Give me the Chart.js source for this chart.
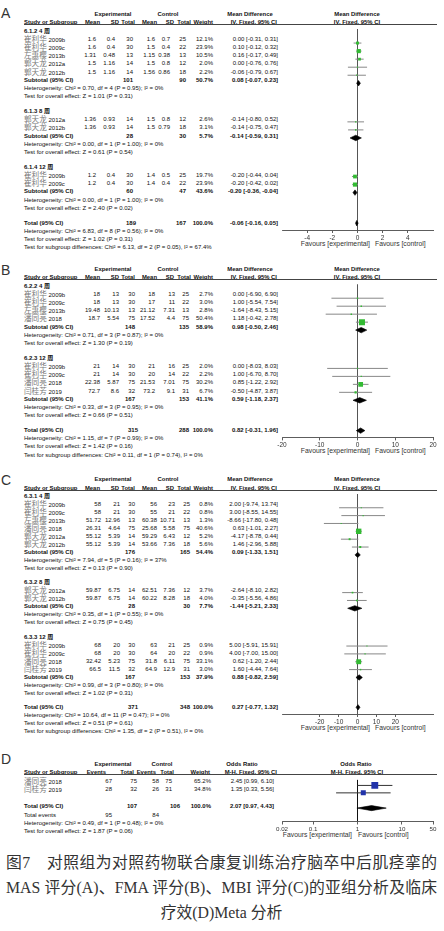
<!DOCTYPE html>
<html>
<head>
<meta charset="utf-8">
<title>Forest plots</title>
<script src="https://cdn.jsdelivr.net/npm/chart.js@4.4.1/dist/chart.umd.min.js"></script>
<style>
  html, body { margin: 0; padding: 0; background: #fff; }
  body { position: relative; width: 444px; height: 931px; overflow: hidden;
         font-family: "Liberation Sans", Arial, "Noto Sans CJK SC", sans-serif; color: #111; }
  .t { position: absolute; white-space: nowrap; font-size: 6px; line-height: 8px; }
  .b { font-weight: bold; }
  .h { font-weight: bold; font-size: 5.9px; }
  .cjk { font-family: "Noto Sans CJK SC", sans-serif; font-size: 7.6px; line-height: 8px; color: #777; }
  .letter { font-size: 14px; line-height: 16px; color: #333; }
  .fav { font-size: 6.8px; color: #333; }
  .rule { position: absolute; height: 1px; background: #444; }
  .plot { position: absolute; }
  .cap { position: absolute; left: 6px; width: 431px; height: 25px; line-height: 25px; font-size: 15.8px;
         white-space: nowrap; font-family: "Liberation Serif", "Noto Sans CJK SC", serif; color: #333; }
  .just { text-align: justify; text-align-last: justify; }
  .mid { text-align: center; }
</style>
</head>
<body>
<div class="cap just" style="top:849.5px">图7　对照组为对照药物联合康复训练治疗脑卒中后肌痉挛的</div>
<div class="cap just" style="top:874.5px">MAS 评分(A)、FMA 评分(B)、MBI 评分(C)的亚组分析及临床</div>
<div class="cap mid" style="top:899.5px">疗效(D)Meta 分析</div>
<script>
// ---------- A: MAS score ----------
var aGroups = ['6.1.2 4 周', '6.1.3 8 周', '6.1.4 12 周'];
var aGroupOf = [0, 0, 0, 0, 0, 1, 1, 2, 2];
var aStudy = ['崔利华 2009b', '崔利华 2009c', '左惠樱 2013b', '郭天龙 2012a', '郭天龙 2012b',
              '郭天龙 2012a', '郭天龙 2012b', '崔利华 2009b', '崔利华 2009c'];
var aExpMean = [1.6, 1.6, 1.31, 1.5, 1.5, 1.36, 1.36, 1.2, 1.2];
var aExpSD = [0.4, 0.4, 0.48, 1.16, 1.16, 0.93, 0.93, 0.4, 0.4];
var aExpN = [30, 30, 13, 14, 14, 14, 14, 30, 30];
var aCtlMean = [1.6, 1.5, 1.15, 1.5, 1.56, 1.5, 1.5, 1.4, 1.4];
var aCtlSD = [0.7, 0.4, 0.38, 0.8, 0.86, 0.8, 0.79, 0.5, 0.4];
var aCtlN = [25, 22, 13, 12, 18, 12, 18, 25, 22];
var aWeight = [12.1, 23.9, 10.5, 2.0, 2.2, 2.6, 3.1, 19.7, 23.9];
var aMD = [0.00, 0.10, 0.16, 0.00, -0.06, -0.14, -0.14, -0.20, -0.20];
var aLo = [-0.31, -0.12, -0.17, -0.76, -0.79, -0.80, -0.75, -0.44, -0.42];
var aHi = [0.31, 0.32, 0.49, 0.76, 0.67, 0.52, 0.47, 0.04, 0.02];
// subtotals, last entry = overall total
var aSubExpN = [101, 28, 60, 189];
var aSubCtlN = [90, 30, 47, 167];
var aSubWeight = [50.7, 5.7, 43.6, 100.0];
var aSubMD = [0.08, -0.14, -0.20, -0.06];
var aSubLo = [-0.07, -0.59, -0.36, -0.16];
var aSubHi = [0.23, 0.31, -0.04, 0.05];
var aHet = ['Chi² = 0.70, df = 4 (P = 0.95); I² = 0%', 'Chi² = 0.00, df = 1 (P = 1.00); I² = 0%',
            'Chi² = 0.00, df = 1 (P = 1.00); I² = 0%', 'Chi² = 6.83, df = 8 (P = 0.56); I² = 0%'];
var aZ = ['Z = 1.01 (P = 0.31)', 'Z = 0.61 (P = 0.54)', 'Z = 2.40 (P = 0.02)', 'Z = 1.02 (P = 0.31)'];
var aDiff = 'Chi² = 6.13, df = 2 (P = 0.05), I² = 67.4%';
var aTicks = [-4, -2, 0, 2, 4];

// ---------- B: FMA score ----------
var bGroups = ['6.2.2 4 周', '6.2.3 12 周'];
var bGroupOf = [0, 0, 0, 0, 1, 1, 1, 1];
var bStudy = ['崔利华 2009b', '崔利华 2009c', '左惠樱 2013b', '潘同亮 2018',
              '崔利华 2009b', '崔利华 2009c', '潘同亮 2018', '闫桂芳 2019'];
var bExpMean = [18, 18, 19.48, 18.7, 21, 21, 22.38, 72.7];
var bExpSD = [13, 13, 10.13, 5.54, 14, 14, 5.87, 8.6];
var bExpN = [30, 30, 13, 75, 30, 30, 75, 32];
var bCtlMean = [18, 17, 21.12, 17.52, 21, 20, 21.53, 73.2];
var bCtlSD = [13, 11, 7.31, 4.4, 16, 14, 7.01, 9.1];
var bCtlN = [25, 22, 13, 75, 25, 22, 75, 31];
var bWeight = [2.7, 3.0, 2.8, 50.4, 2.0, 2.2, 30.2, 6.7];
var bMD = [0.00, 1.00, -1.64, 1.18, 0.00, 1.00, 0.85, -0.50];
var bLo = [-6.90, -5.54, -8.43, -0.42, -8.03, -6.70, -1.22, -4.87];
var bHi = [6.90, 7.54, 5.15, 2.78, 8.03, 8.70, 2.92, 3.87];
var bSubExpN = [148, 167, 315];
var bSubCtlN = [135, 153, 288];
var bSubWeight = [58.9, 41.1, 100.0];
var bSubMD = [0.98, 0.59, 0.82];
var bSubLo = [-0.50, -1.18, -0.31];
var bSubHi = [2.46, 2.37, 1.96];
var bHet = ['Chi² = 0.71, df = 3 (P = 0.87); I² = 0%', 'Chi² = 0.33, df = 3 (P = 0.95); I² = 0%',
            'Chi² = 1.15, df = 7 (P = 0.99); I² = 0%'];
var bZ = ['Z = 1.30 (P = 0.19)', 'Z = 0.66 (P = 0.51)', 'Z = 1.42 (P = 0.16)'];
var bDiff = 'Chi² = 0.11, df = 1 (P = 0.74), I² = 0%';
var bTicks = [-20, -10, 0, 10, 20];

// ---------- C: MBI score ----------
var cGroups = ['6.3.1 4 周', '6.3.2 8 周', '6.3.3 12 周'];
var cGroupOf = [0, 0, 0, 0, 0, 0, 1, 1, 2, 2, 2, 2];
var cStudy = ['崔利华 2009b', '崔利华 2009c', '左惠樱 2013b', '潘同亮 2018', '郭天龙 2012a', '郭天龙 2012b',
              '郭天龙 2012a', '郭天龙 2012b', '崔利华 2009b', '崔利华 2009c', '潘同亮 2018', '闫桂芳 2019'];
var cExpMean = [58, 58, 51.72, 26.31, 55.12, 55.12, 59.87, 59.87, 68, 68, 32.42, 66.5];
var cExpSD = [21, 21, 12.96, 4.64, 5.39, 5.39, 6.75, 6.75, 20, 20, 5.23, 11.5];
var cExpN = [30, 30, 13, 75, 14, 14, 14, 14, 30, 30, 75, 32];
var cCtlMean = [56, 55, 60.38, 25.68, 59.29, 53.66, 62.51, 60.22, 63, 64, 31.8, 64.9];
var cCtlSD = [23, 21, 10.71, 5.58, 6.43, 7.36, 7.36, 8.28, 21, 20, 6.11, 12.9];
var cCtlN = [25, 22, 13, 75, 12, 18, 12, 18, 25, 22, 75, 31];
var cWeight = [0.8, 0.8, 1.3, 40.6, 5.2, 5.6, 3.7, 4.0, 0.9, 0.9, 33.1, 3.0];
var cMD = [2.00, 3.00, -8.66, 0.63, -4.17, 1.46, -2.64, -0.35, 5.00, 4.00, 0.62, 1.60];
var cLo = [-9.74, -8.55, -17.80, -1.01, -8.78, -2.96, -8.10, -5.56, -5.91, -7.00, -1.20, -4.44];
var cHi = [13.74, 14.55, 0.48, 2.27, 0.44, 5.88, 2.82, 4.86, 15.91, 15.00, 2.44, 7.64];
var cSubExpN = [176, 28, 167, 371];
var cSubCtlN = [165, 30, 153, 348];
var cSubWeight = [54.4, 7.7, 37.9, 100.0];
var cSubMD = [0.09, -1.44, 0.88, 0.27];
var cSubLo = [-1.33, -5.21, -0.82, -0.77];
var cSubHi = [1.51, 2.33, 2.59, 1.32];
var cHet = ['Chi² = 7.94, df = 5 (P = 0.16); I² = 37%', 'Chi² = 0.35, df = 1 (P = 0.55); I² = 0%',
            'Chi² = 0.99, df = 3 (P = 0.80); I² = 0%', 'Chi² = 10.64, df = 11 (P = 0.47); I² = 0%'];
var cZ = ['Z = 0.13 (P = 0.90)', 'Z = 0.75 (P = 0.45)', 'Z = 1.02 (P = 0.31)', 'Z = 0.51 (P = 0.61)'];
var cDiff = 'Chi² = 1.35, df = 2 (P = 0.51), I² = 0%';
var cTicks = [-20, -10, 0, 10, 20];

// ---------- D: clinical efficacy ----------
var dStudy = ['潘同亮 2018', '闫桂芳 2019'];
var dExpEvents = [67, 28];
var dExpN = [75, 32];
var dCtlEvents = [58, 26];
var dCtlN = [75, 31];
var dWeight = [65.2, 34.8];
var dOR = [2.45, 1.35];
var dLo = [0.99, 0.33];
var dHi = [6.10, 5.56];
var dTotal = [107, 106, 100.0, 2.07, 0.97, 4.43];   // expN, ctlN, weight, OR, lo, hi
var dEvents = [95, 84];
var dHet = 'Chi² = 0.49, df = 1 (P = 0.48); I² = 0%';
var dZ = 'Z = 1.87 (P = 0.06)';
var dTicks = [0.02, 0.1, 1, 10, 50];

var GAP = 0.8;      // extra space between subgroups, in lines

function put(s, x, y, align, cls) {
  var d = document.createElement('div');
  d.className = 't' + (cls ? ' ' + cls : '');
  d.textContent = s;
  d.style.left = x + 'px';
  d.style.top = y + 'px';
  d.style.transform = align === 'r' ? 'translate(-100%,-50%)' : align === 'c' ? 'translate(-50%,-50%)' : 'translateY(-50%)';
  document.body.appendChild(d);
  return d;
}

function studyName(s, y) {
  var d = put('', 24, y, 'l');
  var parts = s.split(' ');
  var c = document.createElement('span');
  c.className = 'cjk';
  c.textContent = parts[0] + ' ';
  d.appendChild(c);
  d.appendChild(document.createTextNode(parts[1]));
}

function rule(y) {
  var r = document.createElement('div');
  r.className = 'rule';
  r.style.left = '24px'; r.style.width = '413px'; r.style.top = (y - 0.5) + 'px';
  document.body.appendChild(r);
}

function ciText(m, lo, hi) {
  return m.toFixed(2) + ' [' + lo.toFixed(2) + ', ' + hi.toFixed(2) + ']';
}

function forest(o) {
  var box = document.createElement('div');
  box.className = 'plot';
  box.style.left = '272px';
  box.style.top = o.top + 'px';
  box.style.width = '171px';
  box.style.height = (o.yMax * o.lh + 18) + 'px';
  var cv = document.createElement('canvas');
  box.appendChild(cv);
  document.body.appendChild(box);

  var ci = [];
  o.lo.forEach(function (lo, i) {
    ci.push({x: lo, y: o.y[i]}, {x: o.hi[i], y: o.y[i]}, {x: lo, y: null});
  });
  var ds = [{
    type: 'scatter', order: 0,
    data: o.est.map(function (m, i) { return {x: m, y: o.y[i]}; }),
    pointStyle: 'rect',
    pointRadius: o.weight.map(function (w) { return Math.max(0.8, 0.6 * Math.sqrt(w)); }),
    backgroundColor: o.box, borderWidth: 0
  }, {
    type: 'line', order: 2, data: ci,
    borderColor: o.line, borderWidth: 1, pointRadius: 0, fill: false, spanGaps: false
  }];
  o.dEst.forEach(function (m, j) {
    var y = o.dY[j], h = 0.34;
    ds.push({
      type: 'line', order: 1,
      data: [{x: o.dLo[j], y: y}, {x: m, y: y - h}, {x: o.dHi[j], y: y}, {x: m, y: y + h}, {x: o.dLo[j], y: y}],
      borderColor: '#000', borderWidth: 0.6, backgroundColor: '#000', pointRadius: 0, fill: 'shape'
    });
  });

  new Chart(cv, {
    type: 'scatter',
    data: {datasets: ds},
    options: {
      responsive: true, maintainAspectRatio: false, animation: false, events: [],
      layout: {padding: {left: 10, right: 10, top: 0, bottom: 0}},
      plugins: {legend: {display: false}, tooltip: {enabled: false}},
      scales: {
        x: {
          type: o.log ? 'logarithmic' : 'linear', min: o.min, max: o.max,
          afterBuildTicks: function (s) { s.ticks = o.ticks.map(function (v) { return {value: v}; }); },
          afterFit: function (s) { s.height = 18; },
          ticks: {autoSkip: false, maxRotation: 0, padding: 1, color: '#333',
                  font: {family: 'Liberation Sans', size: o.tickSize},
                  callback: function (v) { return String(v); }},
          grid: {color: function (c) { return c.tick && c.tick.value === o.ref ? o.refColor : 'rgba(0,0,0,0)'; },
                 lineWidth: 1, tickLength: 3, tickColor: '#333', tickWidth: 0.8},
          border: {display: true, color: '#333', width: 0.8}
        },
        y: {type: 'linear', display: false, reverse: true, min: 0, max: o.yMax}
      }
    }
  });
}

function meanDiffPanel(p) {
  var top = p.lineTop, lh = p.lineH, cols = p.cols;
  function yOf(k) { return top + (k + 0.75) * lh; }

  put(p.letter, 1, p.letterY, 'l', 'letter');
  put('Experimental', 113, top - 11, 'c', 'h');
  put('Control', 168, top - 11, 'c', 'h');
  put('Mean Difference', 250, top - 11, 'c', 'h');
  put('Mean Difference', 357, top - 11, 'c', 'h');
  put('Study or Subgroup', 24, top - 2.5, 'l', 'h');
  ['Mean', 'SD', 'Total', 'Mean', 'SD', 'Total', 'Weight', 'IV, Fixed, 95% CI'].forEach(function (h, c) {
    put(h, [100, 119, 135, 157, 174, 191, 213, 277][c], top - 2.5, 'r', 'h');
  });
  put('IV, Fixed, 95% CI', 357, top - 2.5, 'c', 'h');
  rule(top);

  var k = 0, rowY = [], subY = [];
  p.groups.forEach(function (g, gi) {
    put(g, 24, yOf(k), 'l', 'b');
    k++;
    p.groupOf.forEach(function (gg, i) {
      if (gg !== gi) return;
      var y = yOf(k);
      studyName(p.study[i], y);
      [p.expMean[i], p.expSD[i], p.expN[i], p.ctlMean[i], p.ctlSD[i], p.ctlN[i],
       p.weight[i].toFixed(1) + '%', ciText(p.md[i], p.lo[i], p.hi[i])].forEach(function (v, c) {
        put(String(v), cols[c], y, 'r');
      });
      rowY[i] = k + 0.75;
      k++;
    });
    subY.push(k);
    k += 3 + GAP;
  });
  subY.push(k);

  subY.forEach(function (sk, j) {
    var isTotal = j === subY.length - 1;
    var y = yOf(sk);
    put(isTotal ? 'Total (95% CI)' : 'Subtotal (95% CI)', 24, y, 'l', 'b');
    put(String(p.subExpN[j]), cols[2] + (isTotal ? 3 : 0), y, 'r', 'b');
    put(String(p.subCtlN[j]), cols[5], y, 'r', 'b');
    put(p.subWeight[j].toFixed(1) + '%', cols[6], y, 'r', 'b');
    put(ciText(p.subMD[j], p.subLo[j], p.subHi[j]), cols[7], y, 'r', 'b');
    put('Heterogeneity: ' + p.het[j], 24, yOf(sk + 1), 'l');
    put('Test for overall effect: ' + p.z[j], 24, yOf(sk + 2), 'l');
  });
  var tk = subY[subY.length - 1];
  put('Test for subgroup differences: ' + p.diff, 24, yOf(tk + 3), 'l');

  var yMax = tk + 0.75 + 0.85;
  var axisY = top + yMax * lh;
  put('Favours [experimental]', 370, axisY + 14, 'r', 'fav');
  put('Favours [control]', 375, axisY + 14, 'l', 'fav');

  forest({
    top: top, lh: lh, yMax: yMax, y: rowY,
    est: p.md, lo: p.lo, hi: p.hi, weight: p.weight,
    dEst: p.subMD, dLo: p.subLo, dHi: p.subHi, dY: subY.map(function (v) { return v + 0.75; }),
    min: p.min, max: p.max, ticks: p.ticks, log: false, tickSize: 6.5,
    ref: 0, refColor: '#555', box: '#33bb33', line: '#888'
  });
}

meanDiffPanel({
  letter: 'A', letterY: 13, lineTop: 24.5, lineH: 8.2, cols: [96, 115, 133, 155, 170, 186, 213, 278],
  groups: aGroups, groupOf: aGroupOf, study: aStudy,
  expMean: aExpMean, expSD: aExpSD, expN: aExpN, ctlMean: aCtlMean, ctlSD: aCtlSD, ctlN: aCtlN,
  weight: aWeight, md: aMD, lo: aLo, hi: aHi,
  subExpN: aSubExpN, subCtlN: aSubCtlN, subWeight: aSubWeight, subMD: aSubMD, subLo: aSubLo, subHi: aSubHi,
  het: aHet, z: aZ, diff: aDiff, ticks: aTicks, min: -6, max: 6
});

meanDiffPanel({
  letter: 'B', letterY: 270, lineTop: 279.5, lineH: 8.2, cols: [100, 119, 135, 155, 175, 189, 213, 278],
  groups: bGroups, groupOf: bGroupOf, study: bStudy,
  expMean: bExpMean, expSD: bExpSD, expN: bExpN, ctlMean: bCtlMean, ctlSD: bCtlSD, ctlN: bCtlN,
  weight: bWeight, md: bMD, lo: bLo, hi: bHi,
  subExpN: bSubExpN, subCtlN: bSubCtlN, subWeight: bSubWeight, subMD: bSubMD, subLo: bSubLo, subHi: bSubHi,
  het: bHet, z: bZ, diff: bDiff, ticks: bTicks, min: -20, max: 20
});

meanDiffPanel({
  letter: 'C', letterY: 480, lineTop: 490, lineH: 8.0, cols: [101, 120, 135, 157, 175, 190, 213, 278],
  groups: cGroups, groupOf: cGroupOf, study: cStudy,
  expMean: cExpMean, expSD: cExpSD, expN: cExpN, ctlMean: cCtlMean, ctlSD: cCtlSD, ctlN: cCtlN,
  weight: cWeight, md: cMD, lo: cLo, hi: cHi,
  subExpN: cSubExpN, subCtlN: cSubCtlN, subWeight: cSubWeight, subMD: cSubMD, subLo: cSubLo, subHi: cSubHi,
  het: cHet, z: cZ, diff: cDiff, ticks: cTicks, min: -40, max: 40
});

// panel D (odds ratio, log axis)
(function () {
  var top = 774.5, lh = 8.3;
  function yOf(k) { return top + (k + 0.75) * lh; }
  var cols = [112, 137, 159, 172, 211, 274];
  put('D', 1, 759, 'l', 'letter');
  put('Experimental', 113, top - 11, 'c', 'h');
  put('Control', 162, top - 11, 'c', 'h');
  put('Odds Ratio', 242, top - 11, 'c', 'h');
  put('Odds Ratio', 356, top - 11, 'c', 'h');
  put('Study or Subgroup', 24, top - 2.5, 'l', 'h');
  ['Events', 'Total', 'Events', 'Total', 'Weight', 'M-H, Fixed, 95% CI'].forEach(function (h, c) {
    put(h, [106, 134, 156, 174, 210, 277][c], top - 2.5, 'r', 'h');
  });
  put('M-H, Fixed, 95% CI', 357, top - 2.5, 'c', 'h');
  rule(top);

  var rowY = [];
  dStudy.forEach(function (s, i) {
    var y = yOf(i);
    studyName(s, y);
    [dExpEvents[i], dExpN[i], dCtlEvents[i], dCtlN[i], dWeight[i].toFixed(1) + '%',
     ciText(dOR[i], dLo[i], dHi[i])].forEach(function (v, c) { put(String(v), cols[c], y, 'r'); });
    rowY.push(i + 0.75);
  });
  var tk = 3.05;
  put('Total (95% CI)', 24, yOf(tk), 'l', 'b');
  put(String(dTotal[0]), cols[1], yOf(tk), 'r', 'b');
  put(String(dTotal[1]), 180, yOf(tk), 'r', 'b');
  put(dTotal[2].toFixed(1) + '%', cols[4], yOf(tk), 'r', 'b');
  put(ciText(dTotal[3], dTotal[4], dTotal[5]), cols[5], yOf(tk), 'r', 'b');
  put('Total events', 24, yOf(tk + 1.05), 'l');
  put(String(dEvents[0]), cols[0], yOf(tk + 1.05), 'r');
  put(String(dEvents[1]), cols[2], yOf(tk + 1.05), 'r');
  put('Heterogeneity: ' + dHet, 24, yOf(tk + 2.05), 'l');
  put('Test for overall effect: ' + dZ, 24, yOf(tk + 3.05), 'l');

  var yMax = 5.6;
  var axisY = top + yMax * lh;
  put('Favours [experimental]', 352, axisY + 14, 'r', 'fav');
  put('Favours [control]', 358, axisY + 14, 'l', 'fav');

  forest({
    top: top, lh: lh, yMax: yMax, y: rowY,
    est: dOR, lo: dLo, hi: dHi, weight: dWeight,
    dEst: [dTotal[3]], dLo: [dTotal[4]], dHi: [dTotal[5]], dY: [tk + 0.75],
    min: 0.02, max: 50, ticks: dTicks, log: true, tickSize: 6.2,
    ref: 1, refColor: '#111', box: '#2233aa', line: '#333'
  });
})();
</script>
</body>
</html>
